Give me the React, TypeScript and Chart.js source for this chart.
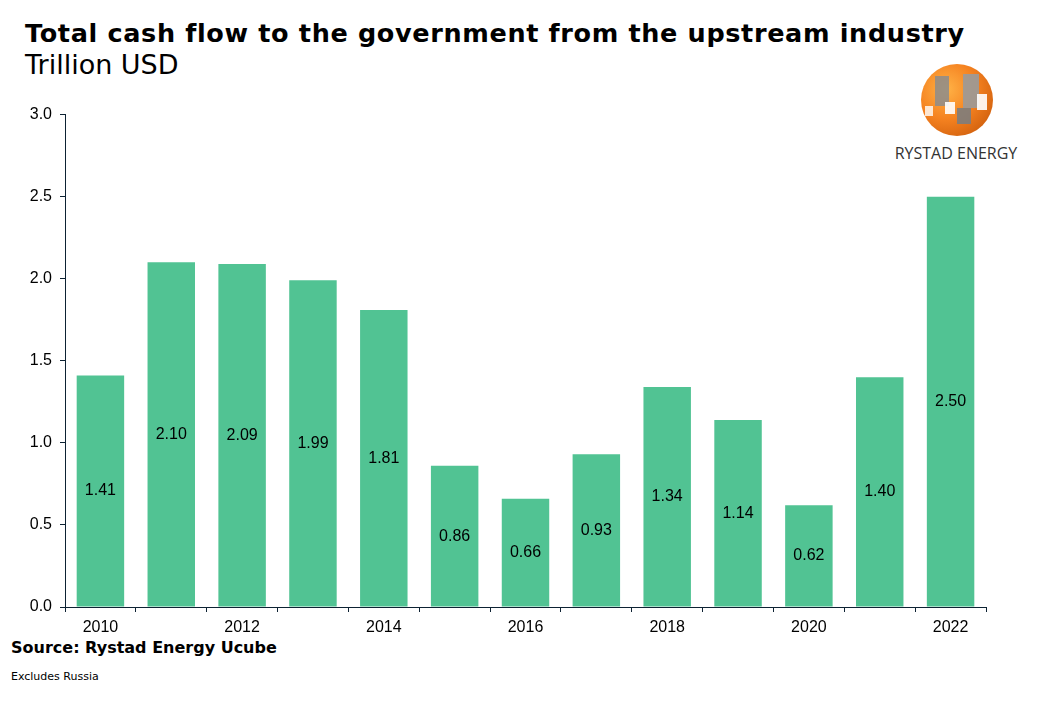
import React, { useEffect, useRef } from "react";
import { Chart, registerables } from "chart.js";

Chart.register(...registerables);

const categories = ["2010", "2011", "2012", "2013", "2014", "2015", "2016", "2017", "2018", "2019", "2020", "2021", "2022"];
const values = [1.41, 2.10, 2.09, 1.99, 1.81, 0.86, 0.66, 0.93, 1.34, 1.14, 0.62, 1.40, 2.50];
const yTicks = [0, 0.5, 1.0, 1.5, 2.0, 2.5, 3.0];

const BAR_COLOR = "#51C393";
const AXIS_COLOR = "#0d2233";
const TICK_FONT = "'Liberation Sans', Arial, sans-serif";

const valueLabelPlugin = {
  id: "valueLabels",
  afterDatasetsDraw(chart: any) {
    const ctx = chart.ctx;
    const meta = chart.getDatasetMeta(0);
    ctx.save();
    ctx.font = `16px ${TICK_FONT}`;
    ctx.fillStyle = "#000";
    ctx.textAlign = "center";
    ctx.textBaseline = "middle";
    meta.data.forEach((el: any, i: number) => {
      const { x, y, base } = el.getProps(["x", "y", "base"], true);
      ctx.fillText(values[i].toFixed(2), x, (y + base) / 2);
    });
    ctx.restore();
  },
};

export default function App() {
  const ref = useRef<HTMLCanvasElement>(null);
  useEffect(() => {
    if (!ref.current) return;
    const chart = new Chart(ref.current, {
      type: "bar",
      data: {
        labels: categories,
        datasets: [
          {
            data: values,
            backgroundColor: BAR_COLOR,
            borderWidth: 0,
            barPercentage: 0.67,
            categoryPercentage: 1,
          },
        ],
      },
      options: {
        responsive: false,
        animation: false,
        devicePixelRatio: 1,
        layout: { padding: { top: 14, right: 54, left: 0, bottom: 0 } },
        plugins: { legend: { display: false }, tooltip: { enabled: false }, title: { display: false } },
        scales: {
          x: {
            grid: { display: true, drawOnChartArea: false, drawTicks: true, tickLength: 5, color: AXIS_COLOR, offset: true },
            border: { display: true, color: AXIS_COLOR, width: 1 },
            ticks: {
              autoSkip: false,
              maxRotation: 0,
              padding: 6,
              color: "#000",
              font: { family: TICK_FONT, size: 16 },
              callback: (_v: any, i: number) => (i % 2 === 0 ? categories[i] : ""),
            },
            afterFit: (s: any) => {
              s.height = 30;
            },
          },
          y: {
            min: 0,
            max: 3,
            afterBuildTicks: (s: any) => {
              s.ticks = yTicks.map((v) => ({ value: v }));
            },
            grid: { display: true, drawOnChartArea: false, drawTicks: true, tickLength: 5, color: AXIS_COLOR },
            border: { display: true, color: AXIS_COLOR, width: 1 },
            ticks: {
              padding: 8,
              color: "#000",
              font: { family: TICK_FONT, size: 16 },
              callback: (v: any) => Number(v).toFixed(1),
            },
            afterFit: (s: any) => {
              s.width = 65;
            },
          },
        },
      },
      plugins: [valueLabelPlugin],
    });
    return () => chart.destroy();
  }, []);

  const verdana = "Verdana, 'DejaVu Sans', sans-serif";

  return (
    <div style={{ position: "absolute", left: 0, top: 0, width: 1040, height: 720, background: "#fff", overflow: "hidden" }}>
      <div style={{ position: "absolute", left: 25, top: 21, fontFamily: verdana, fontWeight: "bold", fontSize: 25.5, letterSpacing: 0.65, lineHeight: "25.5px", whiteSpace: "nowrap", color: "#000" }}>
        Total cash flow to the government from the upstream industry
      </div>
      <div style={{ position: "absolute", left: 25, top: 51, fontFamily: verdana, fontSize: 27, lineHeight: "27px", whiteSpace: "nowrap", color: "#000" }}>
        Trillion USD
      </div>

      {/* Logo */}
      <div style={{ position: "absolute", left: 921, top: 64, width: 72, height: 72, borderRadius: "50%", overflow: "hidden",
        background: "radial-gradient(circle at 35% 35%, #ffb347 0%, #f58220 45%, #d3620f 80%, #b84f0a 100%)" }}>
        <div style={{ position: "absolute", left: 14, top: 12, width: 14, height: 30, background: "#8c8c8c", opacity: 0.85 }} />
        <div style={{ position: "absolute", left: 24, top: 38, width: 10, height: 12, background: "#ffffff", opacity: 0.9 }} />
        <div style={{ position: "absolute", left: 42, top: 10, width: 16, height: 34, background: "#9a9a9a", opacity: 0.9 }} />
        <div style={{ position: "absolute", left: 36, top: 44, width: 14, height: 16, background: "#7d7d7d", opacity: 0.9 }} />
        <div style={{ position: "absolute", left: 56, top: 30, width: 10, height: 16, background: "#ffffff", opacity: 0.9 }} />
        <div style={{ position: "absolute", left: 4, top: 42, width: 8, height: 10, background: "#ffffff", opacity: 0.8 }} />
      </div>
      <div style={{ position: "absolute", left: 893, top: 144, width: 126, textAlign: "center", fontFamily: "'Open Sans', sans-serif", fontSize: 16, lineHeight: "18px", whiteSpace: "nowrap", color: "#333" }}>
        RYSTAD ENERGY
      </div>

      <div style={{ position: "absolute", left: 0, top: 97, width: 1040, height: 540 }}>
        <canvas ref={ref} width={1040} height={540} style={{ width: 1040, height: 540, display: "block" }} />
      </div>

      <div style={{ position: "absolute", left: 11, top: 640, fontFamily: verdana, fontWeight: "bold", fontSize: 16, lineHeight: "16px", whiteSpace: "nowrap", color: "#000" }}>
        Source: Rystad Energy Ucube
      </div>
      <div style={{ position: "absolute", left: 11, top: 671, fontFamily: verdana, fontSize: 11, lineHeight: "11px", whiteSpace: "nowrap", color: "#000" }}>
        Excludes Russia
      </div>
    </div>
  );
}
